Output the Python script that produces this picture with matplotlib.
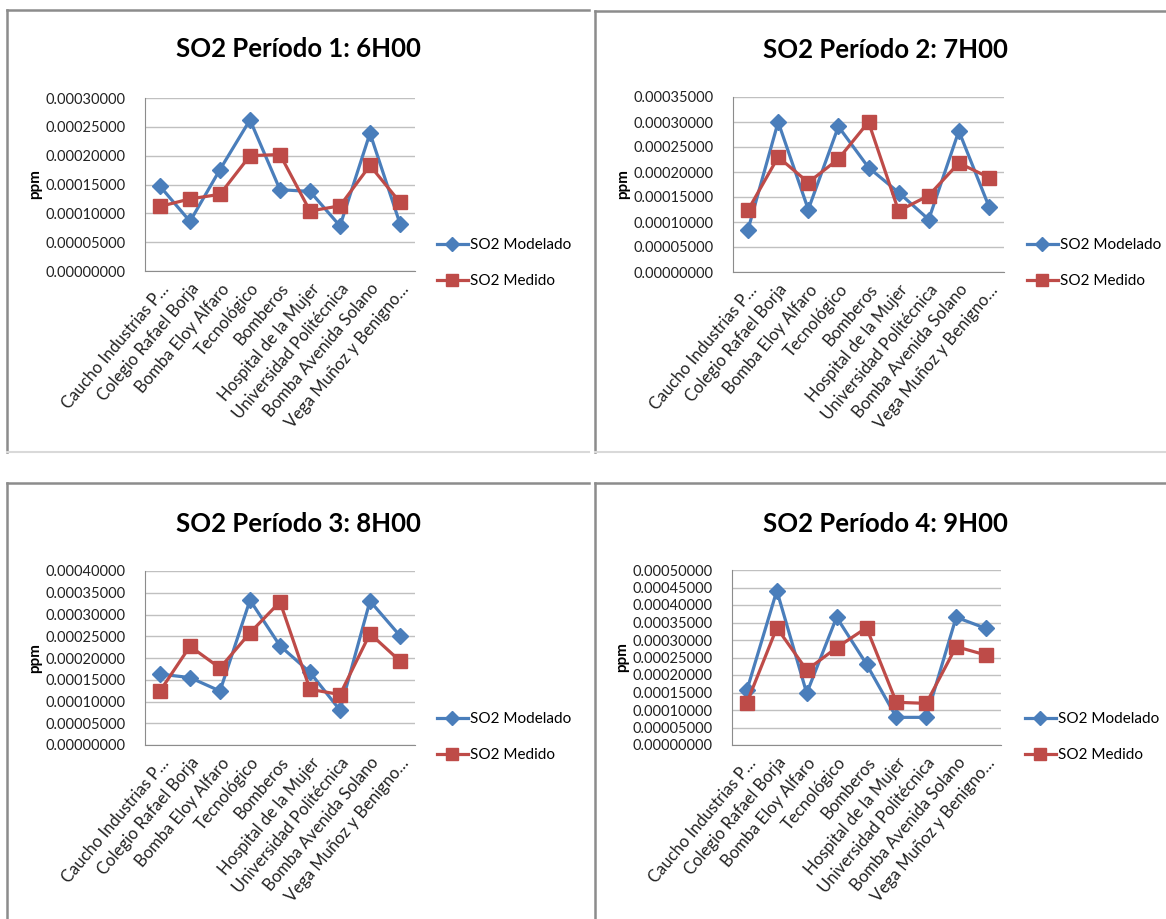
import numpy as np
import matplotlib.pyplot as plt
from matplotlib.lines import Line2D

plt.rcParams['font.family'] = ['Lato', 'DejaVu Sans']

estaciones = ["Caucho Industrias P\u2026", "Colegio Rafael Borja", "Bomba Eloy Alfaro",
              "Tecnológico", "Bomberos", "Hospital de la Mujer",
              "Universidad Politécnica", "Bomba Avenida Solano",
              "Vega Muñoz y Benigno\u2026"]

titulos = ["SO2 Período 1: 6H00", "SO2 Período 2: 7H00",
           "SO2 Período 3: 8H00", "SO2 Período 4: 9H00"]

# SO2 modelado (ppm)
mod_p1 = [0.000147, 0.000086, 0.000176, 0.000262, 0.000141, 0.000138, 0.000078, 0.000239, 0.000082]
mod_p2 = [0.000085, 0.000300, 0.000125, 0.000291, 0.000209, 0.000159, 0.000105, 0.000282, 0.000131]
mod_p3 = [0.000163, 0.000155, 0.000124, 0.000333, 0.000228, 0.000167, 0.000080, 0.000331, 0.000251]
mod_p4 = [0.000157, 0.000441, 0.000148, 0.000365, 0.000231, 0.000079, 0.000079, 0.000365, 0.000333]

# SO2 medido (ppm)
med_p1 = [0.000112, 0.000125, 0.000133, 0.000200, 0.000202, 0.000104, 0.000113, 0.000183, 0.000119]
med_p2 = [0.000124, 0.000230, 0.000179, 0.000226, 0.000300, 0.000122, 0.000153, 0.000218, 0.000189]
med_p3 = [0.000124, 0.000227, 0.000177, 0.000258, 0.000329, 0.000128, 0.000116, 0.000256, 0.000193]
med_p4 = [0.000121, 0.000335, 0.000214, 0.000278, 0.000335, 0.000122, 0.000119, 0.000281, 0.000257]

ymax = [0.00030, 0.00035, 0.00040, 0.00050]

modelado = [mod_p1, mod_p2, mod_p3, mod_p4]
medido = [med_p1, med_p2, med_p3, med_p4]

W, H = 1166, 919
fig = plt.figure(figsize=(W / 100, H / 100), dpi=100)

# pixel boxes: (left, right, top, bottom) of the plot area
areas = [(145, 415, 98, 271), (733, 1004, 97, 272),
         (145, 415, 571, 745), (732, 1001, 570, 745)]
# chart frames: (left, top, right, bottom)
marcos = [(7, 10, 589, 452), (595, 11, 1180, 452),
          (7, 483, 589, 930), (595, 483, 1180, 930)]
tit_pos = [(298, 49), (885, 50), (298, 524), (885, 524)]
ley_pos = [(437, 263), (1027, 263), (437, 737), (1025, 737)]

azul = '#4A7EBB'
rojo = '#BE4B48'


def fx(x):
    return x / W


def fy(y):
    return 1 - y / H


for i in range(4):
    l, t, r, b = marcos[i]
    fig.add_artist(Line2D([fx(l), fx(l)], [fy(t), fy(b)], color='#8c8c8c', lw=1.8))
    fig.add_artist(Line2D([fx(l), fx(r)], [fy(t), fy(t)], color='#8c8c8c', lw=1.8))
    fig.add_artist(Line2D([fx(l), fx(r)], [fy(b), fy(b)], color='#d9d9d9', lw=1.5))

    al, ar, at, ab = areas[i]
    ax = fig.add_axes([fx(al), fy(ab), (ar - al) / W, (ab - at) / H])
    x = np.arange(len(estaciones))
    ax.plot(x, modelado[i], '-', color=azul, lw=2.3, marker='D', ms=8, label='SO2 Modelado')
    ax.plot(x, medido[i], '-', color=rojo, lw=2.3, marker='s', ms=9.5, label='SO2 Medido')

    ax.set_xlim(-0.5, len(estaciones) - 0.5)
    ax.set_ylim(0, ymax[i])
    ax.set_yticks(np.arange(0, ymax[i] + 1e-9, 0.00005))
    ax.yaxis.set_major_formatter(plt.FormatStrFormatter('%.8f'))
    ax.grid(axis='y', color='#c0c0c0', lw=1)
    ax.set_axisbelow(True)
    for s in ['top', 'right']:
        ax.spines[s].set_visible(False)
    for s in ['left', 'bottom']:
        ax.spines[s].set_color('#8c8c8c')
    ax.tick_params(axis='both', length=0, colors='#222222')
    ax.tick_params(axis='y', pad=14, labelsize=10.5)
    ax.tick_params(axis='x', pad=7, labelsize=12)
    ax.set_xticks(x)
    ax.set_xticklabels(estaciones, rotation=50, ha='right', rotation_mode='anchor')
    ax.set_ylabel('ppm', fontsize=11, fontweight='bold')
    ax.yaxis.set_label_coords((al - 103) / W * W / (ar - al) - al / (ar - al), 0.5)

    fig.text(fx(tit_pos[i][0]), fy(tit_pos[i][1]), titulos[i], ha='center', va='center',
             fontsize=18.5, fontweight='bold')
    ax.legend(loc='center left', bbox_to_anchor=(fx(ley_pos[i][0]), fy(ley_pos[i][1])),
              bbox_transform=fig.transFigure, frameon=False, fontsize=11, borderpad=0,
              borderaxespad=0, handlelength=2.0, handletextpad=0.15, labelspacing=1.45,
              markerscale=0.95)

fig.savefig('out.png', dpi=100)
